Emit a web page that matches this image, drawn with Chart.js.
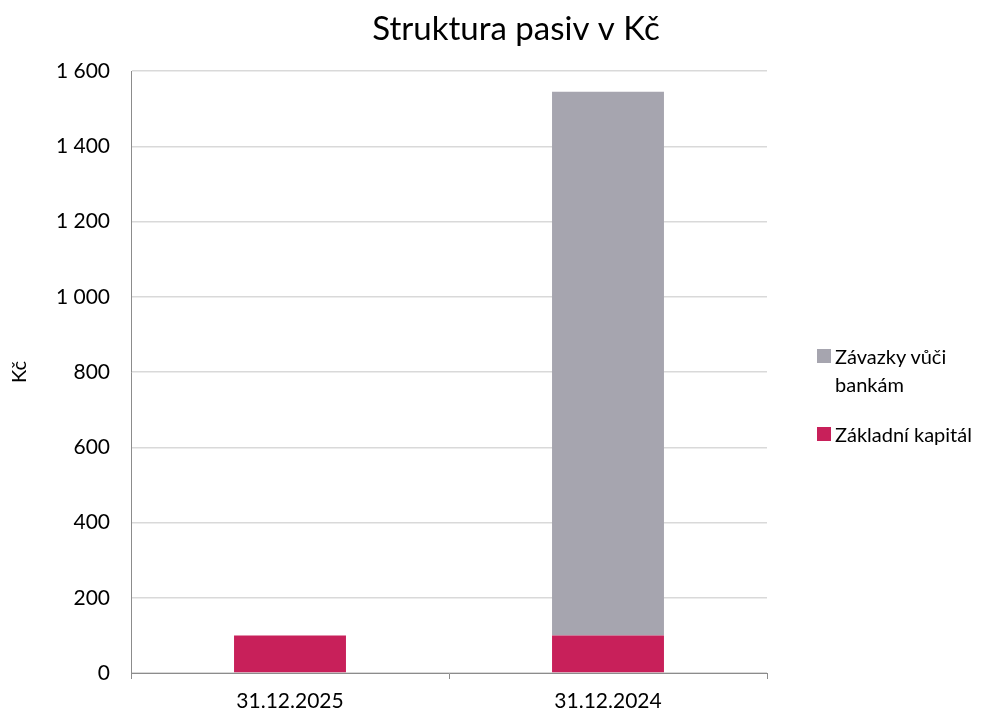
<!DOCTYPE html>
<html>
<head>
<meta charset="utf-8">
<script src="https://cdn.jsdelivr.net/npm/chart.js@4"></script>
<style>
  body { margin: 0; background: #fff; overflow: hidden; }
  #wrap { position: relative; width: 992px; height: 715px; }
  #legend { position: absolute; left: 817px; top: 342px; font-family: Lato, sans-serif; font-size: 20px; color: #000; }
  .item { display: flex; align-items: flex-start; margin-bottom: 22px; line-height: 28px; }
  .box { width: 14px; height: 14px; margin-top: 7px; margin-right: 4px; flex: none; }
  .txt { width: 160px; }
</style>
</head>
<body>
<div id="wrap">
  <canvas id="myChart" width="992" height="715"></canvas>
  <div id="legend"></div>
</div>
<script>
const categories = ["31.12.2025", "31.12.2024"];
const zakladniKapital = [100, 100];
const zavazkyBankam = [0, 1445];
const seriesNames = ["Základní kapitál", "Závazky vůči bankám"];
const seriesColors = ["#C8205A", "#A6A5AF"];
const yTicks = { min: 0, max: 1600, step: 200 };

function formatNumber(v) {
  // thousands separated by a space, like "1 600"
  return String(v).replace(/\B(?=(\d{3})+(?!\d))/g, " ");
}

const font = { family: "Lato, sans-serif", size: 21 };

// title is centred over the whole picture (plot + legend), shift its box
const titleShift = {
  id: 'titleShift',
  afterLayout(chart) {
    if (chart.titleBlock) {
      chart.titleBlock.left = 40;
      chart.titleBlock.right = 992;
    }
  }
};

const chart = new Chart(document.getElementById("myChart"), {
  type: 'bar',
  data: {
    labels: categories,
    datasets: [
      { label: seriesNames[0], data: zakladniKapital, backgroundColor: seriesColors[0] },
      { label: seriesNames[1], data: zavazkyBankam, backgroundColor: seriesColors[1] }
    ]
  },
  plugins: [titleShift],
  options: {
    responsive: false,
    animation: false,
    layout: { padding: { left: 0, right: 225, top: 0, bottom: 0 } },
    datasets: { bar: { categoryPercentage: 1, barPercentage: 0.352 } },
    plugins: {
      legend: { display: false },
      tooltip: { enabled: false },
      title: {
        display: true,
        text: 'Struktura pasiv v Kč',
        color: '#000',
        font: { family: "Lato, sans-serif", size: 33, weight: 'normal' },
        padding: { top: 10, bottom: 21.4 }
      }
    },
    scales: {
      x: {
        stacked: true,
        border: { color: '#8c8c8c', width: 1 },
        grid: { offset: true, drawOnChartArea: false, drawTicks: true, tickLength: 6, color: '#8c8c8c' },
        ticks: { color: '#000', font: font, padding: 10 },
        afterFit: (s) => { s.height = 42; }
      },
      y: {
        stacked: true,
        min: yTicks.min,
        max: yTicks.max,
        border: { color: '#8c8c8c', width: 1 },
        grid: { color: '#d9d9d9', lineWidth: 1.5, drawTicks: false },
        ticks: {
          stepSize: yTicks.step,
          color: '#000',
          font: font,
          padding: 21,
          callback: (v) => formatNumber(v)
        },
        title: { display: true, text: 'Kč', color: '#000', font: { family: "Lato, sans-serif", size: 20 }, padding: { top: 8, bottom: 0 } },
        afterFit: (s) => { s.width = 131; }
      }
    }
  }
});

// legend at the right, top item is the upper stack
const legend = document.getElementById("legend");
chart.data.datasets.slice().reverse().forEach(ds => {
  const item = document.createElement("div");
  item.className = "item";
  item.innerHTML = '<span class="box" style="background:' + ds.backgroundColor + '"></span><span class="txt"></span>';
  item.querySelector(".txt").textContent = ds.label;
  legend.appendChild(item);
});
</script>
</body>
</html>
